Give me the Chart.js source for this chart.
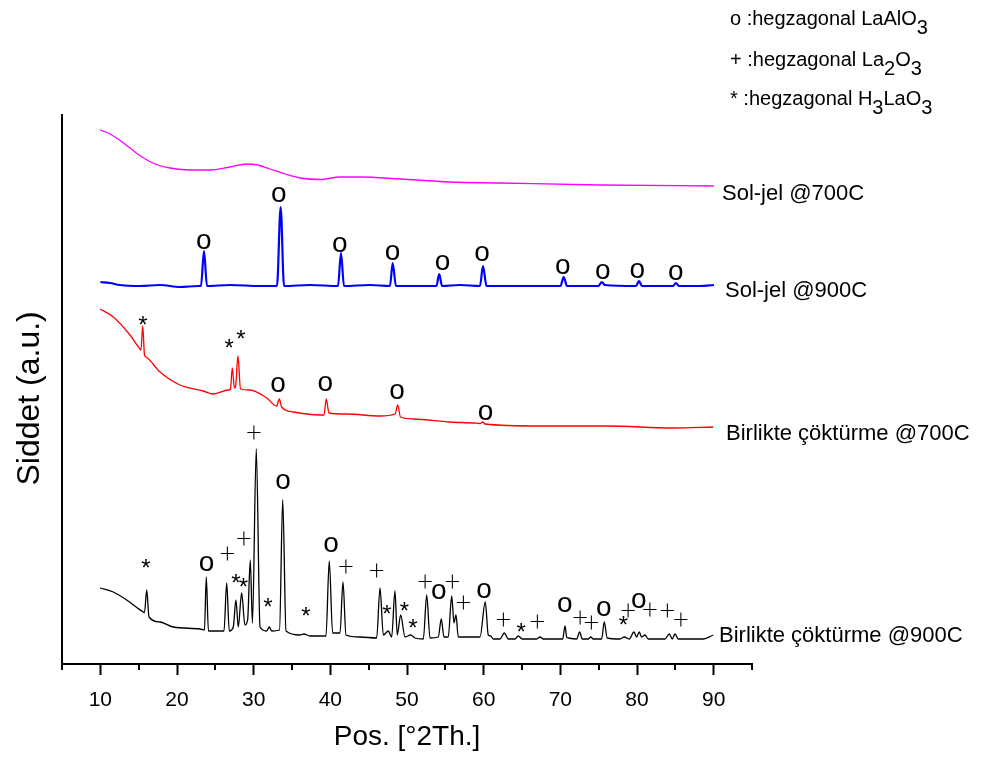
<!DOCTYPE html>
<html>
<head>
<meta charset="utf-8">
<script src="https://cdn.jsdelivr.net/npm/chart.js@4.4.1/dist/chart.umd.min.js"></script>
<style>
html,body{margin:0;padding:0;background:#fff;}
#wrap{width:984px;height:758px;position:relative;}
</style>
</head>
<body>
<div id="wrap"><canvas id="c" width="984" height="758"></canvas></div>
<script>
// ---------- DATA (2θ in degrees, intensity in arbitrary offset units) ----------
const seriesNames = ["Sol-jel @700C", "Sol-jel @900C", "Birlikte çöktürme @700C", "Birlikte çöktürme @900C"];
const seriesColors = ["#ff00ff", "#0000ff", "#ff0000", "#000000"];

const solJel700 = [
  [9.96,534],[11.0,531],[12.3,525],[13.87,516],[15.43,507],[17.13,500],[19.09,496],[21.7,494],
  [24.3,494],[26.91,497],[29.13,500],[30.56,499],[32.13,495],[34.09,490],[36.04,486],[38.65,484.5],
  [41.26,487],[43.87,487],[49.09,485],[55.61,482],[62.13,481],[75.17,479],[90.04,478]
];

const solJel900 = [
  [10.0,382],[11.26,381],[12.56,379],[15.17,378],[17.78,379],[20.39,377],[22.74,378],[23.13,378],
  [23.52,413],[23.91,378],[26.91,379],[30.83,378],[33.04,378],[33.52,457],[33.96,378],[37.35,379],
  [41.0,378],[41.39,411],[41.78,378],[45.17,379],[47.78,378],[48.13,401],[48.56,378],[51.69,378],
  [53.84,378],[54.2,390],[54.57,378],[56.91,379],[59.52,378],[59.91,398],[60.37,378],[64.74,378],
  [70.02,378],[70.44,387],[70.87,378],[74.97,378],[75.39,382],[75.83,379],[79.87,378],[80.26,383],
  [80.65,378],[84.69,378],[85.08,381],[85.47,378],[88.21,378],[90.04,379]
];

const coPrec700 = [
  [9.96,355],[11.69,347],[13.87,329],[15.17,315],[15.3,314],[15.53,338],[15.76,309],[15.96,307],
  [17.78,292],[20.39,279],[23.43,273],[24.73,270],[26.69,274],[26.97,275],[27.21,296],[27.49,276],
  [27.65,278],[27.95,308],[28.28,275],[29.52,274],[31.7,266],[33.0,258],[33.34,265],[33.65,257],
  [35.17,252],[38.65,249],[39.17,249],[39.47,265],[39.82,251],[42.13,250],[46.48,248],[48.44,250],
  [48.79,259],[49.15,247],[50.82,245],[55.6,242],[58.65,241],[59.52,240.5],[59.87,242],[60.17,240],
  [67.35,238],[69.95,238],[76.04,238],[84.73,236],[89.95,237]
];

const coPrec900 = [
  [9.96,76],[11.69,72],[13.44,64],[15.6,52],[15.76,51.5],[16.05,74],[16.35,47],[17.78,42],
  [19.52,37],[23.0,35],[23.58,34],[23.82,87],[24.1,33],[26.13,33],[26.48,81],[26.82,33],
  [27.34,37],[27.69,64],[27.99,37],[28.43,71],[28.86,39],[29.21,44],[29.56,104],[29.84,41],
  [30.34,215],[30.83,37],[31.7,33],[32.04,37],[32.35,33],[33.37,34],[33.79,164],[34.22,33],
  [36.04,29],[36.56,30],[37.35,28],[39.43,28],[39.86,103],[40.3,31],[41.26,31],[41.65,82],
  [42.04,29],[43.87,27],[46.04,26],[46.48,76],[46.91,29],[47.56,33],[48.0,27],[48.43,73],
  [48.73,29],[49.17,49],[49.74,27],[50.48,29],[51.04,26],[52.13,25],[52.57,69],[53.0,26],
  [54.08,27],[54.47,45],[54.82,27],[55.38,27],[55.83,68],[56.13,41],[56.39,49],[56.69,27],
  [59.52,27],[60.21,62],[60.6,29],[60.91,28],[61.25,25],[62.13,25],[62.69,31],[63.21,25],
  [64.08,25],[64.51,28],[65.04,25],[66.91,25],[67.35,27],[67.78,25],[70.31,25],[70.61,38],
  [70.83,27],[71.04,26],[72.13,25],[72.52,32],[72.86,25],[73.64,25],[73.96,27],[74.3,25],
  [75.39,25],[75.73,42],[76.12,26],[77.78,25],[78.34,27],[78.99,25],[79.6,32],[79.95,27],
  [80.29,32],[80.6,27],[81.04,29],[81.47,25],[83.65,25],[84.21,30],[84.6,25],[84.95,30],
  [85.38,25],[88.64,25],[89.95,29]
];

// phase markers: [2θ, height, symbol]
const marksSolJel900 = [
  [23.65,423,"o"],[33.43,469.5,"o"],[41.39,420,"o"],[48.26,412,"o"],[54.78,402,"o"],
  [59.95,411,"o"],[70.48,398,"o"],[75.69,393,"o"],[80.21,394,"o"],[85.21,392,"o"]
];
const marksCoPrec700 = [
  [15.53,344,"*"],[26.78,321,"*"],[28.31,330,"*"],[33.34,280,"o"],[39.51,281,"o"],
  [48.86,273,"o"],[60.39,252,"o"]
];
const marksCoPrec900 = [
  [15.92,101,"*"],[24.01,101,"o"],[26.69,111,"+"],[27.65,86,"*"],[28.65,82,"*"],[28.83,126,"+"],
  [30.13,232,"+"],[33.99,183,"o"],[31.83,62,"*"],[36.79,53,"*"],[40.26,120,"o"],[42.13,98,"+"],
  [46.15,94,"+"],[47.35,55,"*"],[49.65,58,"*"],[50.74,41,"*"],[52.48,83,"+"],[54.3,73,"o"],
  [56.04,83,"+"],[57.47,62,"+"],[60.21,74,"o"],[62.69,45,"+"],[64.87,37,"*"],[67.12,43,"+"],
  [70.74,60,"o"],[72.69,47,"+"],[74.17,42,"+"],[75.82,56,"o"],[78.21,44,"*"],[78.95,54,"+"],
  [80.39,64,"o"],[81.78,55,"+"],[84.08,54,"+"],[85.83,45,"+"]
];

const majorTicks = [10,20,30,40,50,60,70,80,90];
const minorTicks = [5,15,25,35,45,55,65,75,85,95];
const legendLines = [
  ["o :hegzagonal LaAlO", "3", ""],
  ["+ :hegzagonal La", "2", "O", "3"],
  ["* :hegzagonal H", "3", "LaO", "3"]
];

// ---------- CHART ----------
const FONT = "Arial, 'Liberation Sans', sans-serif";
const toXY = arr => arr.map(p => ({x: p[0], y: p[1]}));

const overlay = {
  id: 'overlay',
  afterDraw(chart) {
    const ctx = chart.ctx;
    const xs = chart.scales.x, ys = chart.scales.y;
    const area = chart.chartArea;
    ctx.save();
    // minor ticks
    ctx.strokeStyle = '#000';
    ctx.lineWidth = 2;
    minorTicks.forEach(v => {
      const px = Math.round(xs.getPixelForValue(v));
      ctx.beginPath();
      ctx.moveTo(px, area.bottom);
      ctx.lineTo(px, area.bottom + 6);
      ctx.stroke();
    });
    // phase markers
    const fonts = {
      "o": "28px " + FONT,
      "*": "24px " + FONT,
      "+": "300 28px Lato, " + FONT
    };
    ctx.fillStyle = '#000';
    ctx.textAlign = 'left';
    ctx.textBaseline = 'alphabetic';
    [marksSolJel900, marksCoPrec700, marksCoPrec900].forEach(list => {
      list.forEach(m => {
        const cx = xs.getPixelForValue(m[0]);
        const cy = ys.getPixelForValue(m[1]);
        ctx.font = fonts[m[2]];
        const mt = ctx.measureText(m[2]);
        const bx = cx - (mt.actualBoundingBoxRight - mt.actualBoundingBoxLeft) / 2 + mt.actualBoundingBoxLeft;
        const by = cy + (mt.actualBoundingBoxAscent - mt.actualBoundingBoxDescent) / 2;
        ctx.fillText(m[2], bx, by);
      });
    });
    // series names
    ctx.font = "22px " + FONT;
    const namePos = [[722,200],[725,297],[726,440],[719,642]];
    seriesNames.forEach((n, i) => ctx.fillText(n, namePos[i][0], namePos[i][1]));
    // phase legend with subscripts
    const legY = [25, 66, 105];
    const mainF = "20px " + FONT;
    legendLines.forEach((parts, i) => {
      let x = 730;
      parts.forEach((t, j) => {
        if (!t) return;
        const sub = (j % 2 === 1);
        ctx.font = mainF;
        ctx.fillText(t, x, legY[i] + (sub ? 9 : 0));
        x += ctx.measureText(t).width;
      });
    });
    ctx.restore();
  }
};

new Chart(document.getElementById('c'), {
  type: 'line',
  data: {
    datasets: [solJel700, solJel900, coPrec700, coPrec900].map((d, i) => ({
      label: seriesNames[i],
      data: toXY(d),
      borderColor: seriesColors[i],
      borderWidth: i === 1 ? 2.2 : 1.3,
      pointRadius: 0,
      cubicInterpolationMode: 'monotone',
      fill: false
    }))
  },
  options: {
    responsive: false,
    animation: false,
    events: [],
    layout: {padding: {top: 115, right: 232, left: 0, bottom: 0}},
    plugins: {legend: {display: false}, tooltip: {enabled: false}},
    scales: {
      x: {
        type: 'linear',
        min: 5, max: 95,
        afterBuildTicks: s => { s.ticks = majorTicks.map(v => ({value: v})); },
        afterFit: s => { s.height = 94; },
        ticks: {color: '#000', font: {family: FONT, size: 21}, padding: 13, maxRotation: 0, autoSkip: false},
        grid: {display: true, drawOnChartArea: false, drawTicks: true, tickLength: 11, tickWidth: 2, tickColor: '#000'},
        border: {display: true, color: '#000', width: 2},
        title: {display: true, text: 'Pos. [°2Th.]', color: '#000', font: {family: FONT, size: 28}, padding: {top: 0, bottom: 4}}
      },
      y: {
        type: 'linear',
        min: 0, max: 549,
        afterFit: s => { s.width = 62; },
        ticks: {display: false},
        grid: {display: false, drawTicks: false},
        border: {display: true, color: '#000', width: 2},
        title: {display: true, text: 'Siddet (a.u.)  ', color: '#000', font: {family: FONT, size: 32}, padding: {top: 11, bottom: 0}}
      }
    }
  },
  plugins: [overlay]
});
</script>
</body>
</html>
